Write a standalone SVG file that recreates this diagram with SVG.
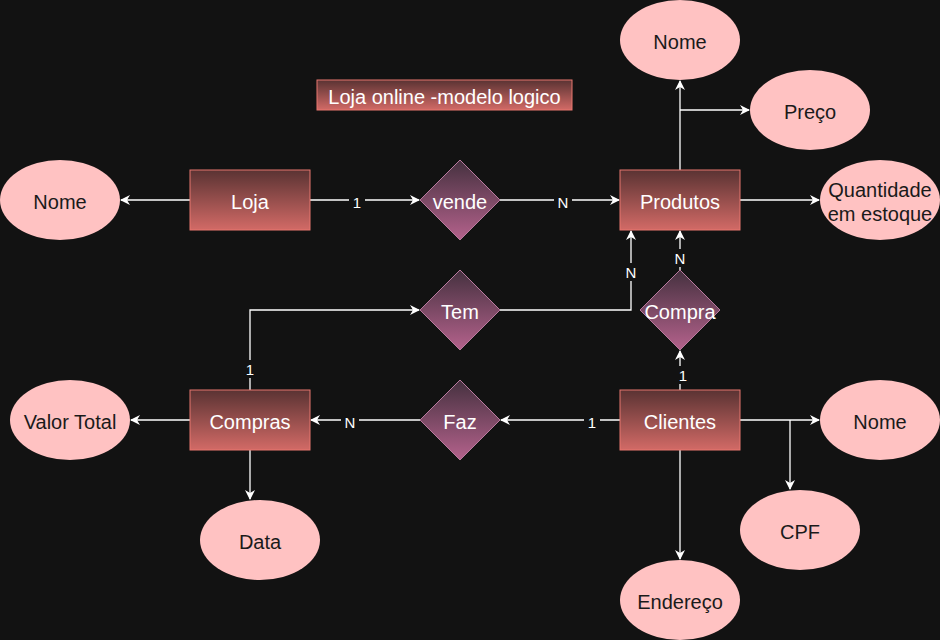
<svg xmlns="http://www.w3.org/2000/svg" width="940" height="640" viewBox="0 0 940 640">
<defs>
<linearGradient id="gEnt" x1="0" y1="0" x2="0" y2="1">
<stop offset="0" stop-color="#5a3333"/>
<stop offset="1" stop-color="#d26a66"/>
</linearGradient>
<linearGradient id="gRel" x1="0" y1="0" x2="0" y2="1">
<stop offset="0" stop-color="#45313f"/>
<stop offset="1" stop-color="#b4628c"/>
</linearGradient>
<marker id="arr" viewBox="0 0 10 10" refX="9" refY="5" markerWidth="10" markerHeight="10" markerUnits="userSpaceOnUse" orient="auto">
<path d="M0,0 L10,5 L0,10 L3,5 Z" fill="#ffffff"/>
</marker>
<style>
.ent{fill:url(#gEnt);stroke:#e7766f;stroke-width:1}
.rel{fill:url(#gRel);stroke:#b87a9e;stroke-width:1}
.att{fill:#ffc2c2;stroke:none}
.tw{font-family:"Liberation Sans",Arial,sans-serif;font-size:20px;fill:#ffffff;text-anchor:middle;dominant-baseline:central}
.td{font-family:"Liberation Sans",Arial,sans-serif;font-size:20px;fill:#1a1a1a;text-anchor:middle;dominant-baseline:central}
.c{fill:none;stroke:#ffffff;stroke-width:1.3;marker-end:url(#arr)}
.lb{fill:#121212}
.lt{font-family:"Liberation Sans",Arial,sans-serif;font-size:15px;fill:#ffffff;text-anchor:middle;dominant-baseline:central}
</style>
</defs>
<rect width="940" height="640" fill="#121212"/>
<g id="connectors">
<path class="c" d="M190,200 L121,200"/>
<path class="c" d="M310,200 L419,200"/>
<path class="c" d="M500,200 L619,200"/>
<path class="c" d="M680,170 L680,81"/>
<path class="c" d="M680,110 L749,110"/>
<path class="c" d="M740,200 L819,200"/>
<path class="c" d="M500,310 L631,310 L631,231"/>
<path class="c" d="M250,390 L250,310 L419,310"/>
<path class="c" d="M680,270 L680,231"/>
<path class="c" d="M680,390 L680,351"/>
<path class="c" d="M620,420 L501,420"/>
<path class="c" d="M420,420 L311,420"/>
<path class="c" d="M190,420 L131,420"/>
<path class="c" d="M250,450 L250,499"/>
<path class="c" d="M740,420 L819,420"/>
<path class="c" d="M790,420 L790,489"/>
<path class="c" d="M680,450 L680,559"/>
<rect class="lb" x="349" y="193" width="16" height="18"/><text class="lt" x="357" y="202">1</text>
<rect class="lb" x="554" y="193" width="18" height="18"/><text class="lt" x="563" y="202">N</text>
<rect class="lb" x="622" y="263" width="18" height="18"/><text class="lt" x="631" y="272">N</text>
<rect class="lb" x="242" y="360" width="16" height="18"/><text class="lt" x="250" y="369">1</text>
<rect class="lb" x="671" y="249" width="18" height="18"/><text class="lt" x="680" y="258">N</text>
<rect class="lb" x="675" y="366" width="16" height="18"/><text class="lt" x="683" y="375">1</text>
<rect class="lb" x="584" y="413" width="16" height="18"/><text class="lt" x="592" y="422">1</text>
<rect class="lb" x="341" y="413" width="18" height="18"/><text class="lt" x="350" y="422">N</text>
</g>
<g id="title"><rect x="317" y="80" width="255" height="30" class="ent"/><text class="tw" x="444.5" y="97">Loja online -modelo logico</text></g>
<g id="loja"><rect class="ent" x="190" y="170" width="120" height="60"/><text class="tw" x="250" y="202">Loja</text></g>
<g id="produtos"><rect class="ent" x="620" y="170" width="120" height="60"/><text class="tw" x="680" y="202">Produtos</text></g>
<g id="compras"><rect class="ent" x="190" y="390" width="120" height="60"/><text class="tw" x="250" y="422">Compras</text></g>
<g id="clientes"><rect class="ent" x="620" y="390" width="120" height="60"/><text class="tw" x="680" y="422">Clientes</text></g>
<g id="vende"><path class="rel" d="M460,160 L500,200 L460,240 L420,200 Z"/><text class="tw" x="460" y="202">vende</text></g>
<g id="tem"><path class="rel" d="M460,270 L500,310 L460,350 L420,310 Z"/><text class="tw" x="460" y="312">Tem</text></g>
<g id="faz"><path class="rel" d="M460,380 L500,420 L460,460 L420,420 Z"/><text class="tw" x="460" y="422">Faz</text></g>
<g id="compra"><path class="rel" d="M680,270 L720,310 L680,350 L640,310 Z"/><text class="tw" x="680" y="312">Compra</text></g>
<g id="nome-loja"><ellipse class="att" cx="60" cy="200" rx="60" ry="40"/><text class="td" x="60" y="202">Nome</text></g>
<g id="nome-produto"><ellipse class="att" cx="680" cy="40" rx="60" ry="40"/><text class="td" x="680" y="42">Nome</text></g>
<g id="preco"><ellipse class="att" cx="810" cy="110" rx="60" ry="40"/><text class="td" x="810" y="112">Preço</text></g>
<g id="quantidade"><ellipse class="att" cx="880" cy="200" rx="60" ry="40"/><text class="td" x="880" y="190">Quantidade</text><text class="td" x="880" y="214">em estoque</text></g>
<g id="valor-total"><ellipse class="att" cx="70" cy="420" rx="60" ry="40"/><text class="td" x="70" y="422">Valor Total</text></g>
<g id="data"><ellipse class="att" cx="260" cy="540" rx="60" ry="40"/><text class="td" x="260" y="542">Data</text></g>
<g id="nome-cliente"><ellipse class="att" cx="880" cy="420" rx="60" ry="40"/><text class="td" x="880" y="422">Nome</text></g>
<g id="cpf"><ellipse class="att" cx="800" cy="530" rx="60" ry="40"/><text class="td" x="800" y="532">CPF</text></g>
<g id="endereco"><ellipse class="att" cx="680" cy="600" rx="60" ry="40"/><text class="td" x="680" y="602">Endereço</text></g>
</svg>
